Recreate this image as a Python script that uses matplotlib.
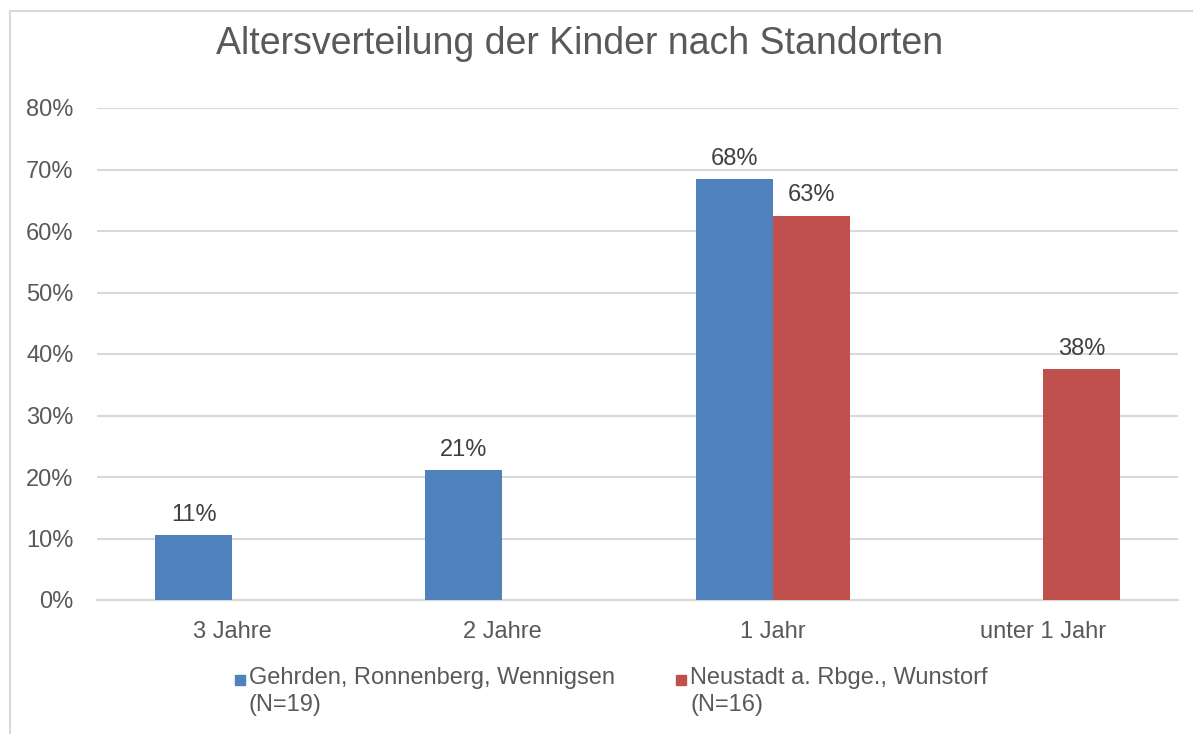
import numpy as np
import matplotlib
matplotlib.use("Agg")
import matplotlib.pyplot as plt
from matplotlib.patches import Rectangle
from matplotlib.lines import Line2D

plt.rcParams['font.family'] = ['Liberation Sans', 'DejaVu Sans']

# data
title = "Altersverteilung der Kinder nach Standorten"
categories = ["3 Jahre", "2 Jahre", "1 Jahr", "unter 1 Jahr"]
series_names = ["Gehrden, Ronnenberg, Wennigsen\n(N=19)",
                "Neustadt a. Rbge., Wunstorf\n(N=16)"]
gehrden = [10.5, 21.1, 68.4, 0.0]
neustadt = [0.0, 0.0, 62.5, 37.5]
gehrden_labels = ["11%", "21%", "68%", None]
neustadt_labels = [None, None, "63%", "38%"]
yticks = [0, 10, 20, 30, 40, 50, 60, 70, 80]

blue = "#4F81BD"
red = "#C0504D"
txt = "#595959"
grid = "#D9D9D9"

W, H = 1193, 734
fig = plt.figure(figsize=(W / 100, H / 100), dpi=100)

# frame of the chart area (only top/left visible in reference)
fig.add_artist(Line2D([10 / W, 10 / W], [0, 1 - 11 / H], transform=fig.transFigure,
                      color=grid, lw=1.5))
fig.add_artist(Line2D([10 / W, 1], [1 - 11 / H, 1 - 11 / H], transform=fig.transFigure,
                      color=grid, lw=1.5))

ax = fig.add_axes([97 / W, (H - 600) / H, 1081 / W, 492 / H])
x = np.arange(len(categories))
bw = 0.285
ax.bar(x - bw / 2, gehrden, bw, color=blue, zorder=3)
ax.bar(x + bw / 2, neustadt, bw, color=red, zorder=3)

for i in range(len(categories)):
    if gehrden_labels[i]:
        ax.text(x[i] - bw / 2, gehrden[i] + 1.5, gehrden_labels[i], ha="center", va="bottom",
                fontsize=17, color="#404040")
    if neustadt_labels[i]:
        ax.text(x[i] + bw / 2, neustadt[i] + 1.5, neustadt_labels[i], ha="center", va="bottom",
                fontsize=17, color="#404040")

ax.set_xlim(-0.5, len(categories) - 0.5)
ax.set_ylim(0, 80)
ax.set_yticks(yticks)
ax.set_yticklabels([f"{t}%" for t in yticks])
ax.set_xticks(x)
ax.set_xticklabels(categories)
ax.tick_params(axis="both", length=0, labelsize=17, labelcolor=txt)
ax.tick_params(axis="y", pad=17)
ax.tick_params(axis="x", pad=15)
ax.yaxis.grid(True, color=grid, lw=1.5, zorder=0)
for s in ["top", "right", "left"]:
    ax.spines[s].set_visible(False)
ax.spines["bottom"].set_color(grid)
ax.spines["bottom"].set_linewidth(1.5)

fig.text(580 / W, 1 - 44 / H, title, ha="center", va="center", fontsize=27, color=txt)

# legend
leg_x = [235, 676]
for lx, name, col in zip(leg_x, series_names, [blue, red]):
    fig.add_artist(Rectangle((lx / W, 1 - 685 / H), 10 / W, 10 / H,
                             transform=fig.transFigure, color=col))
    fig.text((lx + 14) / W, 1 - 667 / H, name, ha="left", va="top", fontsize=17,
             color=txt, linespacing=1.3)

fig.savefig("out.png", dpi=100)
